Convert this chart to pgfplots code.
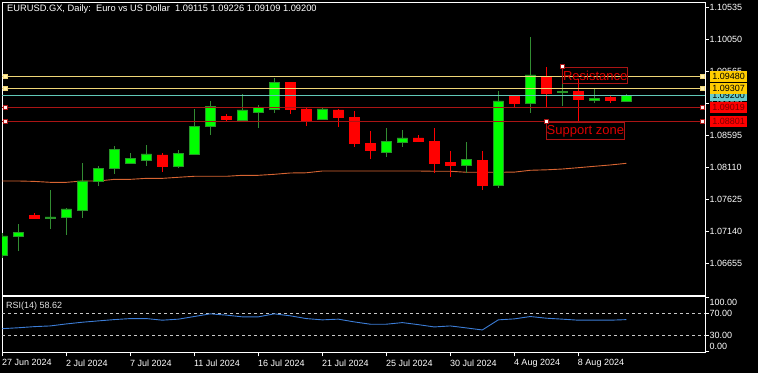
\documentclass[border=0pt]{standalone}
\usepackage{pgfplots}
\pgfplotsset{compat=1.18}
\usepackage{pgfplotstable}
\usepackage{fontspec}
\setmainfont{Liberation Sans}
\pgfdeclarelayer{background}
\pgfsetlayers{background,main}
\definecolor{bullfill}{RGB}{0,255,0}
\definecolor{bulledge}{RGB}{40,150,40}
\definecolor{bullwickc}{RGB}{50,140,50}
\definecolor{bearfill}{RGB}{255,0,0}
\definecolor{lvlyellow}{RGB}{240,214,120}
\definecolor{lvlteal}{RGB}{96,200,184}
\definecolor{lvlred}{RGB}{170,20,20}
\definecolor{boxyellow}{RGB}{255,204,0}
\definecolor{boxteal}{RGB}{102,204,204}
\definecolor{boxred}{RGB}{255,0,0}
\definecolor{boxredtext}{RGB}{120,0,0}
\definecolor{labelred}{RGB}{220,0,0}
\definecolor{macolor}{RGB}{215,100,50}
\definecolor{rsicolor}{RGB}{60,125,215}
\definecolor{lvlgray}{RGB}{200,200,200}

\pgfplotstableread{
i O H L C up
0 1.06788 1.07120 1.06742 1.07075 1
1 1.07075 1.07256 1.06848 1.07135 1
2 1.07392 1.07422 1.07332 1.07347 0
3 1.07347 1.07770 1.07181 1.07362 1
4 1.07362 1.07498 1.07090 1.07483 1
5 1.07467 1.08178 1.07347 1.07906 1
6 1.07906 1.08133 1.07830 1.08102 1
7 1.08102 1.08435 1.08012 1.08389 1
8 1.08178 1.08329 1.08163 1.08253 1
9 1.08223 1.08450 1.08133 1.08314 1
10 1.08299 1.08329 1.08042 1.08133 0
11 1.08133 1.08374 1.08102 1.08329 1
12 1.08314 1.08994 1.08299 1.08737 1
13 1.08737 1.09115 1.08601 1.09039 1
14 1.08888 1.08918 1.08813 1.08843 0
15 1.08828 1.09220 1.08813 1.08979 1
16 1.08948 1.09054 1.08707 1.09024 1
17 1.08994 1.09462 1.08933 1.09402 1
18 1.09402 1.09402 1.08918 1.08994 0
19 1.08994 1.09009 1.08737 1.08813 0
20 1.08843 1.09009 1.08843 1.08994 1
21 1.08979 1.08994 1.08722 1.08873 0
22 1.08873 1.08964 1.08420 1.08480 0
23 1.08480 1.08661 1.08238 1.08374 0
24 1.08344 1.08707 1.08269 1.08510 1
25 1.08495 1.08677 1.08420 1.08556 1
26 1.08556 1.08601 1.08495 1.08510 0
27 1.08510 1.08707 1.08027 1.08178 0
28 1.08193 1.08359 1.07966 1.08148 0
29 1.08148 1.08495 1.08027 1.08238 1
30 1.08223 1.08359 1.07770 1.07845 0
31 1.07845 1.09266 1.07800 1.09115 1
32 1.09205 1.09205 1.09024 1.09084 0
33 1.09084 1.10082 1.08933 1.09508 1
34 1.09492 1.09628 1.09024 1.09236 0
35 1.09251 1.09450 1.09039 1.09266 1
36 1.09266 1.09450 1.08813 1.09145 0
37 1.09130 1.09311 1.09084 1.09160 1
38 1.09175 1.09190 1.09084 1.09130 0
39 1.09115 1.09226 1.09109 1.09200 1
}\ohlc

\pgfplotstableread{
i v
0 1.07906
1 1.07906
2 1.07900
3 1.07886
4 1.07886
5 1.07906
6 1.07906
7 1.07931
8 1.07931
9 1.07946
10 1.07946
11 1.07962
12 1.07977
13 1.07977
14 1.07977
15 1.07992
16 1.07992
17 1.08007
18 1.08027
19 1.08030
20 1.08057
21 1.08057
22 1.08057
23 1.08057
24 1.08057
25 1.08057
26 1.08057
27 1.08053
28 1.08053
29 1.08038
30 1.08038
31 1.08038
32 1.08040
33 1.08068
34 1.08075
35 1.08087
36 1.08107
37 1.08128
38 1.08148
39 1.08173
}\matab

\pgfplotstableread{
i r
0 41.8
1 43.5
2 45.6
3 46.9
4 50.6
5 53.8
6 56.3
7 58.7
8 60.6
9 60.6
10 57.6
11 59.5
12 64.4
13 69.4
14 67.0
15 63.8
16 63.8
17 69.4
18 65.7
19 60.6
20 58.2
21 59.5
22 54.4
23 50.1
24 50.1
25 53.1
26 49.3
27 45.0
28 46.9
29 43.2
30 39.4
31 58.2
32 60.0
33 64.4
34 61.3
35 59.5
36 57.6
37 57.6
38 57.6
39 58.6
}\rsitab

\pgfplotsset{
  bull/.style={fill=bullfill, draw=bulledge, line width=0.8pt},
  bear/.style={fill=bearfill, draw=bearfill, line width=0.8pt},
  bullwick/.style={draw=bullwickc, line width=0.9pt},
  bearwick/.style={draw=bearfill, line width=0.9pt},
}
\tikzset{
  pricebox/.style={anchor=west, xshift=5pt, inner sep=0pt, minimum width=37pt,
    minimum height=11pt, font=\fontsize{9}{10}\selectfont},
}

\begin{document}
\begin{tikzpicture}
\begin{axis}[
  name=main, clip mode=individual,
  scale only axis,
  width=703pt, height=293pt,
  xmin=-0.02, xmax=43.92, ymin=1.06183, ymax=1.10611,
  axis line style={white, line width=0.9pt},
  xtick=\empty,
  ytick={1.06655,1.07140,1.07625,1.08110,1.08595,1.09080,1.09565,1.10050,1.10535},
  yticklabels={1.06655,1.07140,1.07625,1.08110,1.08595,1.09080,1.09565,1.10050,1.10535},
  ytick pos=right, yticklabel pos=right,
  tick align=outside, major tick length=4pt,
  tick style={white, line width=0.9pt},
  yticklabel style={text=white, font=\fontsize{9}{10}\selectfont, anchor=west, inner sep=0pt, xshift=0.5pt},
]
\addplot[macolor, line width=0.9pt] table[x=i, y=v] {\matab};
\pgfplotsinvokeforeach{0,...,39}{
  \pgfplotstablegetelem{#1}{O}\of\ohlc \let\vO\pgfplotsretval
  \pgfplotstablegetelem{#1}{H}\of\ohlc \let\vH\pgfplotsretval
  \pgfplotstablegetelem{#1}{L}\of\ohlc \let\vL\pgfplotsretval
  \pgfplotstablegetelem{#1}{C}\of\ohlc \let\vC\pgfplotsretval
  \pgfplotstablegetelem{#1}{up}\of\ohlc \let\vU\pgfplotsretval
  \pgfmathsetmacro{\xa}{#1-0.33}
  \pgfmathsetmacro{\xb}{#1+0.33}
  \ifnum\vU=1 \def\cst{bull}\def\wst{bullwick}\else\def\cst{bear}\def\wst{bearwick}\fi
  \edef\doit{\noexpand\addplot[\wst] coordinates {(#1,\vL) (#1,\vH)};
    \noexpand\addplot[\cst] coordinates {(\xa,\vO) (\xb,\vO) (\xb,\vC) (\xa,\vC) (\xa,\vO)};}
  \doit
}
\addplot[lvlyellow, line width=0.9pt] coordinates {(-0.02,1.09480) (43.92,1.09480)};
\addplot[lvlyellow, line width=0.9pt] coordinates {(-0.02,1.09307) (43.92,1.09307)};
\addplot[lvlteal, line width=0.9pt] coordinates {(-0.02,1.09200) (43.92,1.09200)};
\addplot[lvlred, line width=0.9pt] coordinates {(-0.02,1.09019) (43.92,1.09019)};
\addplot[lvlred, line width=0.9pt] coordinates {(-0.02,1.08801) (43.92,1.08801)};
\addplot[only marks, mark=square*, mark size=2pt, mark options={fill={rgb,255:red,255;green,240;blue,170}, draw=lvlyellow, line width=0.8pt}]
  coordinates {(0.17,1.09480) (43.77,1.09480) (0.17,1.09307) (43.77,1.09307)};
\addplot[only marks, mark=square*, mark size=2pt, mark options={fill={rgb,255:red,255;green,235;blue,235}, draw=lvlred, line width=0.8pt}]
  coordinates {(0.17,1.09019) (43.77,1.09019) (0.17,1.08801) (43.77,1.08801)};
\node[draw=lvlred, line width=0.8pt, text=labelred, anchor=north west, inner sep=0pt,
  minimum width=65pt, minimum height=16.5pt, font=\fontsize{13}{14}\selectfont]
  at (axis cs:35,1.09633) {Resistance};
\node[draw=lvlred, line width=0.8pt, text=labelred, anchor=north west, inner sep=0pt,
  minimum width=77pt, minimum height=17.5pt, font=\fontsize{13}{14}\selectfont]
  at (axis cs:34,1.08801) {Support zone};
\addplot[only marks, mark=square*, mark size=2pt, mark options={fill=white, draw=lvlred, line width=0.8pt}]
  coordinates {(35,1.09633) (34,1.08801)};
\coordinate (pA) at (axis cs:43.92,1.09480);
\coordinate (pB) at (axis cs:43.92,1.09307);
\coordinate (pC) at (axis cs:43.92,1.09200);
\coordinate (pD) at (axis cs:43.92,1.09019);
\coordinate (pE) at (axis cs:43.92,1.08801);
\node[anchor=west, inner sep=0pt, text=white, font=\fontsize{9.3}{10}\selectfont]
  at (rel axis cs:0,1) [xshift=5pt, yshift=-7.5pt]
  {EURUSD.GX, Daily:\ \ Euro vs US Dollar\ \ 1.09115 1.09226 1.09109 1.09200};
\end{axis}

\begin{axis}[
  name=rsi,
  at={(main.south west)}, anchor=north west, yshift=-1.7pt,
  scale only axis,
  width=703pt, height=55.6pt,
  xmin=-0.02, xmax=43.92, ymin=-2.2, ymax=101.3,
  axis line style={white, line width=0.9pt},
  xtick={0,4,...,36},
  xticklabels={27 Jun 2024,2 Jul 2024,7 Jul 2024,11 Jul 2024,16 Jul 2024,21 Jul 2024,25 Jul 2024,30 Jul 2024,4 Aug 2024,8 Aug 2024},
  xtick pos=bottom, ytick pos=right, yticklabel pos=right,
  ytick={0,30,70,100},
  yticklabels={\raisebox{5pt}[\height][\depth]{0.00},30.00,70.00,\raisebox{-4.5pt}[\height][\depth]{100.00}},
  tick align=outside, major tick length=4pt,
  tick style={white, line width=0.9pt},
  xticklabel style={anchor=north west, text=white, font=\fontsize{9}{10}\selectfont, inner sep=0pt, xshift=-0.5pt, yshift=-3pt},
  yticklabel style={anchor=west, text=white, font=\fontsize{9}{10}\selectfont, inner sep=0pt, xshift=0.5pt},
]
\addplot[lvlgray, line width=0.8pt, dash pattern=on 3pt off 3pt] coordinates {(-0.02,70) (43.92,70)};
\addplot[lvlgray, line width=0.8pt, dash pattern=on 3pt off 3pt] coordinates {(-0.02,30) (43.92,30)};
\addplot[rsicolor, line width=0.9pt] table[x=i, y=r] {\rsitab};
\node[anchor=west, inner sep=0pt, text=white!90!black, font=\fontsize{9}{10}\selectfont]
  at (rel axis cs:0,1) [xshift=4pt, yshift=-9.5pt] {RSI(14) 58.62};
\end{axis}
% price boxes over the right price scale
\node[pricebox, fill=boxteal, text=black] at (pC) {1.09200};
\node[pricebox, fill=boxyellow, text=black] at (pA) {1.09480};
\node[pricebox, fill=boxyellow, text=black] at (pB) {1.09307};
\node[pricebox, fill=boxred, text=boxredtext] at (pD) {1.09019};
\node[pricebox, fill=boxred, text=boxredtext] at (pE) {1.08801};
\begin{pgfonlayer}{background}
\fill[black] ([xshift=-2pt,yshift=2pt]main.north west) rectangle ([xshift=53pt,yshift=-20.7pt]rsi.south east);
\end{pgfonlayer}
\pgfresetboundingbox
\path[use as bounding box] ([xshift=-2pt,yshift=2pt]main.north west) rectangle ([xshift=53pt,yshift=-20.7pt]rsi.south east);
\end{tikzpicture}
\end{document}
